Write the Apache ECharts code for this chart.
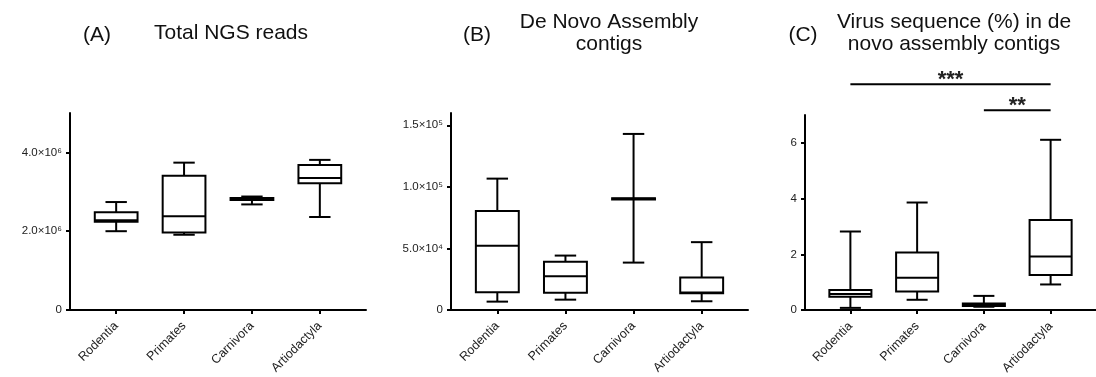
<!DOCTYPE html>
<html>
<head>
<meta charset="utf-8">
<script src="https://cdn.jsdelivr.net/npm/echarts@6/dist/echarts.min.js"></script>
<style>
html, body { margin: 0; background: #fff; }
#chart { width: 1096px; height: 377px; }
</style>
</head>
<body>
<div id="chart"></div>
<script>
const orders = ['Rodentia', 'Primates', 'Carnivora', 'Artiodactyla'];

// each row: [min, Q1, median, Q3, max]
const ngsReads = [
    [2.00e6, 2.24e6, 2.28e6, 2.48e6, 2.74e6],
    [1.91e6, 1.97e6, 2.38e6, 3.41e6, 3.74e6],
    [2.68e6, 2.79e6, 2.81e6, 2.84e6, 2.88e6],
    [2.36e6, 3.22e6, 3.35e6, 3.68e6, 3.81e6]
];
const contigs = [
    [6800, 14400, 52100, 80400, 106700],
    [8400, 14100, 27400, 39100, 44200],
    [38500, 89800, 90300, 90800, 143000],
    [7100, 13600, 14200, 26300, 55100]
];
const virusPct = [
    [0.08, 0.48, 0.58, 0.72, 2.82],
    [0.37, 0.67, 1.16, 2.07, 3.86],
    [0.12, 0.15, 0.19, 0.24, 0.51],
    [0.92, 1.26, 1.92, 3.23, 6.11]
];

const ngsTicks = [0, 2e6, 4e6];
const ngsTickLabels = ['0', '2.0×10⁶', '4.0×10⁶'];
const contigTicks = [0, 5e4, 1e5, 1.5e5];
const contigTickLabels = ['0', '5.0×10⁴', '1.0×10⁵', '1.5×10⁵'];
const virusTicks = [0, 2, 4, 6];
const virusTickLabels = ['0', '2', '4', '6'];

// significance brackets in panel C
const sigFrom = [0, 2];
const sigTo = [3, 3];
const sigLevel = [8.1, 7.17];
const sigLabel = ['***', '**'];

const FONT = 'Liberation Sans, Arial, sans-serif';
const BOX_W = 0.63;

const chart = echarts.init(document.getElementById('chart'));

function renderBox(params, api) {
    const x = api.value(0);
    const lo = api.coord([x, api.value(1)]);
    const q1 = api.coord([x, api.value(2)]);
    const md = api.coord([x, api.value(3)]);
    const q3 = api.coord([x, api.value(4)]);
    const hi = api.coord([x, api.value(5)]);
    const half = api.size([BOX_W, 0])[0] / 2;
    const cap = half / 2;
    const cx = lo[0];
    const st = { stroke: '#000', lineWidth: 2 };
    const ln = (x1, y1, x2, y2) => ({ type: 'line', shape: { x1, y1, x2, y2 }, style: st });
    return {
        type: 'group',
        children: [
            ln(cx, hi[1], cx, q3[1]),
            ln(cx - cap, hi[1], cx + cap, hi[1]),
            ln(cx, q1[1], cx, lo[1]),
            ln(cx - cap, lo[1], cx + cap, lo[1]),
            {
                type: 'rect',
                shape: { x: cx - half, y: q3[1], width: half * 2, height: q1[1] - q3[1] },
                style: { stroke: '#000', lineWidth: 2, fill: '#fff' }
            },
            ln(cx - half, md[1], cx + half, md[1])
        ]
    };
}

function renderSig(params, api) {
    const a = api.coord([api.value(0), api.value(2)]);
    const b = api.coord([api.value(1), api.value(2)]);
    return {
        type: 'group',
        children: [
            { type: 'line', shape: { x1: a[0], y1: a[1], x2: b[0], y2: b[1] }, style: { stroke: '#000', lineWidth: 2 } },
            {
                type: 'text',
                x: (a[0] + b[0]) / 2,
                y: a[1] - 4,
                style: {
                    text: sigLabel[params.dataIndex],
                    fontSize: 22, fontWeight: 'bold', fontFamily: FONT,
                    fill: '#222', align: 'center', verticalAlign: 'middle'
                }
            }
        ]
    };
}

const makeX = (i) => ({
    gridIndex: i,
    type: 'value',
    min: -0.68,
    max: 3.68,
    axisLine: { onZero: false, lineStyle: { color: '#000', width: 2 } },
    axisTick: { customValues: [0, 1, 2, 3], length: 4, lineStyle: { color: '#000', width: 2 } },
    axisLabel: {
        customValues: [0, 1, 2, 3],
        formatter: (v) => orders[v],
        rotate: 45, margin: 14, fontSize: 12.5, color: '#222', fontFamily: FONT
    },
    splitLine: { show: false }
});

const makeY = (i, max, ticks, labels) => ({
    gridIndex: i,
    type: 'value',
    min: 0,
    max: max,
    axisLine: { show: true, onZero: false, lineStyle: { color: '#000', width: 2 } },
    axisTick: { show: true, customValues: ticks, length: 4, lineStyle: { color: '#000', width: 2 } },
    axisLabel: {
        customValues: ticks,
        formatter: (v) => labels[ticks.indexOf(v)],
        margin: 8, fontSize: 11.5, color: '#222', fontFamily: FONT
    },
    splitLine: { show: false }
});

const boxSeries = (i, rows) => ({
    type: 'custom',
    xAxisIndex: i,
    yAxisIndex: i,
    renderItem: renderBox,
    encode: { x: 0, y: [1, 2, 3, 4, 5] },
    data: rows.map((r, k) => [k, ...r])
});

const titleText = (x, y, text) => ({
    type: 'text', x: x, y: y,
    style: { text: text, fontSize: 21, fontFamily: FONT, fill: '#111', align: 'center', verticalAlign: 'middle', lineHeight: 22 }
});

const option = {
    animation: false,
    grid: [
        { left: 70, top: 113, width: 296, height: 197 },
        { left: 451, top: 113, width: 297, height: 197 },
        { left: 805, top: 115, width: 296, height: 196 }
    ],
    xAxis: [makeX(0), makeX(1), makeX(2)],
    yAxis: [
        makeY(0, 5e6, ngsTicks, ngsTickLabels),
        makeY(1, 1.6e5, contigTicks, contigTickLabels),
        makeY(2, 7, virusTicks, virusTickLabels)
    ],
    series: [
        boxSeries(0, ngsReads),
        boxSeries(1, contigs),
        boxSeries(2, virusPct),
        {
            type: 'custom',
            xAxisIndex: 2,
            yAxisIndex: 2,
            renderItem: renderSig,
            clip: false,
            encode: { x: [0, 1], y: 2 },
            data: sigFrom.map((f, k) => [f, sigTo[k], sigLevel[k]])
        }
    ],
    graphic: [
        titleText(97, 35, '(A)'),
        titleText(231, 33, 'Total NGS reads'),
        titleText(477, 35, '(B)'),
        titleText(609, 33, 'De Novo Assembly\ncontigs'),
        titleText(803, 35, '(C)'),
        titleText(954, 33, 'Virus sequence (%) in de\nnovo assembly contigs')
    ]
};

chart.setOption(option);
</script>
</body>
</html>
